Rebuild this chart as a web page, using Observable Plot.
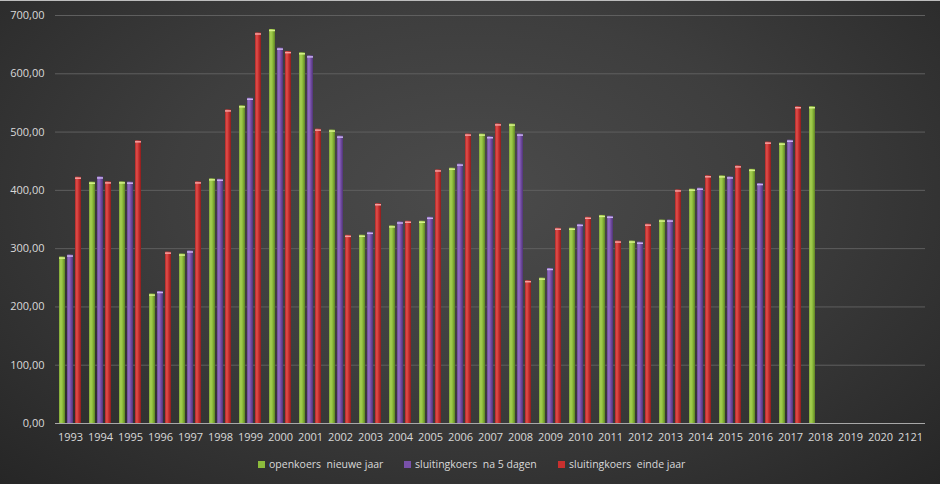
<!DOCTYPE html>
<html>
<head>
<meta charset="utf-8">
<script src="https://cdn.jsdelivr.net/npm/d3@7"></script>
<script src="https://cdn.jsdelivr.net/npm/@observablehq/plot@0.6"></script>
<style>
  html, body { margin: 0; padding: 0; background: #2a2a2a; }
  #wrap {
    position: relative;
    width: 940px; height: 484px; box-sizing: border-box;
    border-top: 1px solid #bdbdbd;
    background: radial-gradient(ellipse at 50% 40%, #4b4b4b 0%, #3e3e3e 45%, #262626 100%);
    font-family: "Open Sans", sans-serif; color: #d9d9d9; overflow: hidden;
  }
  #legend { position: absolute; left: 0; top: 455px; width: 940px; height: 16px; font-size: 10.5px; color: #d9d9d9; }
  .item { position: absolute; top: 0; display: flex; align-items: center; height: 16px; }
  .sw { width: 7px; height: 7px; margin-right: 4px; }
</style>
</head>
<body>
<div id="wrap">
  <div id="chart"></div>
  <div id="legend"></div>
</div>
<script>
const years = ["1993","1994","1995","1996","1997","1998","1999","2000","2001","2002","2003","2004","2005","2006","2007","2008","2009","2010","2011","2012","2013","2014","2015","2016","2017","2018","2019","2020","2121"];
const seriesNames = ["openkoers  nieuwe jaar", "sluitingkoers  na 5 dagen", "sluitingkoers  einde jaar"];
const openkoers = [285.5, 414, 414.5, 222, 290.7, 419.7, 545, 676, 636, 503.4, 323, 339, 347, 438, 496.5, 513.7, 249.4, 335, 357, 313, 349, 402, 424.8, 436, 481, 543.5, null, null, null];
const sluiting5 = [289, 423, 414, 226.5, 296, 419, 558, 644, 630.7, 493, 328, 345.7, 353.8, 445, 492, 496.5, 266, 341.6, 355.5, 311, 349, 403.7, 423, 411.7, 486, null, null, null, null];
const sluitingEinde = [422.6, 414.5, 485, 294, 414.5, 538, 670, 638, 505, 322.8, 377, 347, 435, 496.5, 514, 245, 335, 353.8, 313, 342, 400.7, 425, 442, 482.7, 543.5, null, null, null, null];
const yTicks = [0, 100, 200, 300, 400, 500, 600, 700];
const baseColors = ["#8cbb3c", "#7851a9", "#c8302f"];
const legendLeft = [258, 404, 558];

const seriesValues = [openkoers, sluiting5, sluitingEinde];
const rows = [];
years.forEach((yr, i) => {
  seriesNames.forEach((s, k) => {
    rows.push({year: yr, series: s, value: seriesValues[k][i]});
  });
});

const fillIds = ["url(#gGreen)", "url(#gPurple)", "url(#gRed)"];
const capColors = ["#d6f08a", "#c8b0f0", "#f4a0a0"];

const fmt = d => d.toFixed(2).replace(".", ",");

const plot = Plot.plot({
  width: 940,
  height: 450,
  marginTop: 14,
  marginBottom: 28,
  marginLeft: 54,
  marginRight: 15,
  style: {background: "transparent", color: "#d9d9d9", fontSize: "11px", fontFamily: "Open Sans, sans-serif", overflow: "visible"},
  fx: {domain: years, padding: 0, label: null, tickSize: 0, tickPadding: 10, axis: "bottom"},
  x: {domain: seriesNames, axis: null, paddingInner: 0.22, paddingOuter: 0.42},
  y: {domain: [0, 700], ticks: yTicks, tickFormat: fmt, tickSize: 0, tickPadding: 11, label: null},
  color: {domain: seriesNames, range: fillIds},
  marks: [
    Plot.gridY(yTicks.filter(d => d > 0), {stroke: "#5f5f5f", strokeOpacity: 1}),
    Plot.barY(rows, {fx: "year", x: "series", y: "value", fill: "series"}),
    Plot.tickY(rows, {fx: "year", x: "series", y: "value", stroke: "series", strokeWidth: 1.5, dy: 1}),
    Plot.ruleY([0], {stroke: "#a8a8a8"})
  ]
});

document.getElementById("chart").appendChild(plot);

const svg = d3.select(plot);
const defs = svg.insert("defs", ":first-child");
const grads = [
  {id: "gGreen", stops: ["#7ea534", "#a8d152", "#8cbb3c", "#5f8324"]},
  {id: "gPurple", stops: ["#6a4696", "#9470c4", "#7851a9", "#4f3478"]},
  {id: "gRed", stops: ["#b02626", "#e0504c", "#c8302f", "#8a1d1d"]}
];
grads.forEach(g => {
  const lg = defs.append("linearGradient").attr("id", g.id).attr("x1", "0").attr("x2", "1").attr("y1", "0").attr("y2", "0");
  [0, 0.3, 0.6, 1].forEach((o, j) => lg.append("stop").attr("offset", o).attr("stop-color", g.stops[j]));
});
svg.selectAll("line").each(function() {
  const s = this.getAttribute("stroke");
  const idx = fillIds.indexOf(s);
  if (idx >= 0) this.setAttribute("stroke", capColors[idx]);
});

const legend = document.getElementById("legend");
seriesNames.forEach((s, k) => {
  const item = document.createElement("div");
  item.className = "item";
  item.style.left = legendLeft[k] + "px";
  const sw = document.createElement("div");
  sw.className = "sw";
  sw.style.background = baseColors[k];
  const t = document.createElement("span");
  t.textContent = s;
  t.style.whiteSpace = "pre";
  item.appendChild(sw);
  item.appendChild(t);
  legend.appendChild(item);
});
</script>
</body>
</html>
